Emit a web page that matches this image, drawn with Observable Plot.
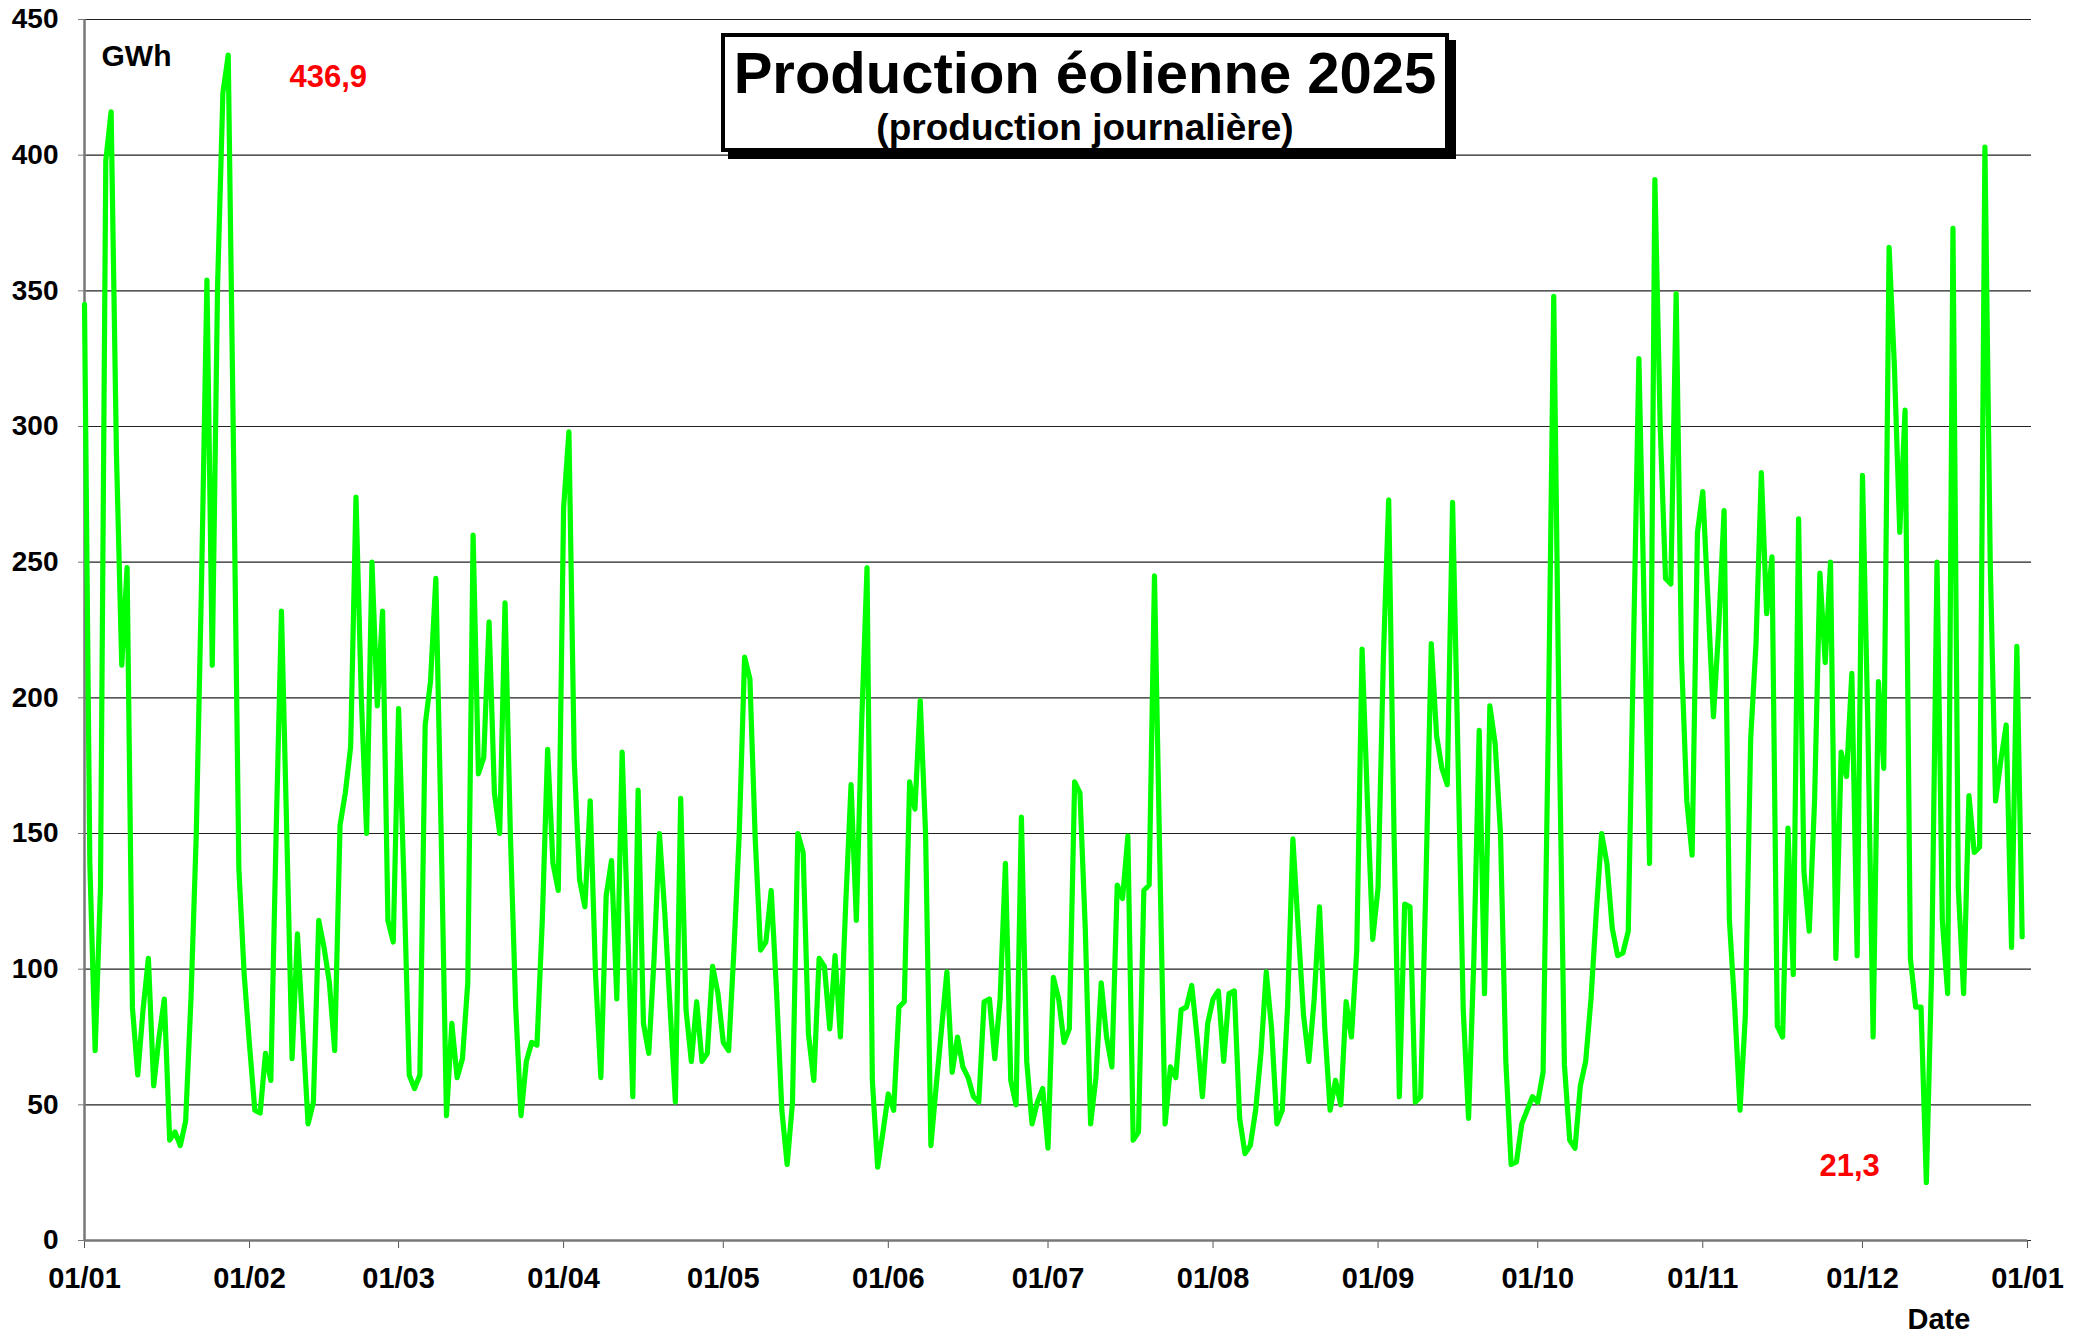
<!DOCTYPE html>
<html>
<head>
<meta charset="utf-8">
<script src="https://cdn.jsdelivr.net/npm/d3@7"></script>
<script src="https://cdn.jsdelivr.net/npm/@observablehq/plot@0.6"></script>
<style>
  html, body { margin: 0; padding: 0; background: #ffffff; }
  #wrap { position: relative; width: 2095px; height: 1335px; overflow: hidden; }
  #titlebox {
    position: absolute; left: 721px; top: 33px; width: 720px; height: 111px;
    border: 4px solid #000; background: #fff; box-shadow: 7px 7px 0 #000;
    font-family: "Liberation Sans", Arial, sans-serif; font-weight: bold; color: #000;
  }
  #title { position: absolute; left: 0; right: 0; top: 7px; text-align: center; font-size: 58px; line-height: 58px; }
  #subtitle { position: absolute; left: 0; right: 0; top: 72px; text-align: center; font-size: 37px; line-height: 37px; }
</style>
</head>
<body>
<div id="wrap"></div>
<script>
// ---- Data ----
const titleText = "Production éolienne 2025";
const subtitleText = "(production journalière)";
const unitLabel = "GWh";
const xLabel = "Date";
const startYear = 2025;
const yTicks = [0, 50, 100, 150, 200, 250, 300, 350, 400, 450];
const monthTicks = ["2025-01-01","2025-02-01","2025-03-01","2025-04-01","2025-05-01","2025-06-01",
  "2025-07-01","2025-08-01","2025-09-01","2025-10-01","2025-11-01","2025-12-01","2026-01-01"];

// daily production (GWh), Jan 1 -> Dec 31
const janValues = [345,139,70,130,398,416,290,212,248,86,61,85,104,57,75,89,37,40,35,44,89,150,244,354,212,352,423,436.9,290,137,98];
const febValues = [72,48,47,69,59,150,232,150,67,113,78,43,51,118,108,95,70,153,165,182,274,200,150,250,197,232,118,110];
const marValues = [196,133,61,56,61,190,206,244,150,46,80,60,67,95,260,172,178,228,165,150,235,150,86,46,66,73,72,118,181,139,129];
const aprValues = [270,298,177,133,123,162,98,60,127,140,89,180,118,53,166,80,69,104,150,121,86,51,163,85,66,88,66,69,101,91];
const mayValues = [73,70,107,150,215,207,148,107,110,129,92,48,28,51,150,143,76,59,104,101,78,105,75,124,168,118,191,248,59,27,40];
const junValues = [54,48,86,88,169,159,199,150,35,57,78,99,62,75,64,60,53,51,88,89,67,89,139,59,50,156,66,43,51,56];
const julValues = [34,97,89,73,78,169,165,115,43,60,95,75,64,131,126,149,37,40,129,131,245,140,43,64,60,85,86,94,75,53,80];
const augValues = [89,92,66,91,92,45,32,35,48,69,99,78,43,48,86,148,115,83,66,89,123,78,48,59,50,88,75,107,218,162,111];
const sepValues = [130,215,273,150,53,124,123,51,53,133,220,186,174,168,272,180,85,45,104,188,91,197,183,150,66,28,29,43,48,53];
const octValues = [51,62,191,348,191,65,37,34,57,66,89,121,150,139,115,105,106,114,220,325,232,139,391,300,244,242,349,215,162,142,261];
const novValues = [276,235,193,226,269,118,86,48,83,185,220,283,231,252,79,75,152,98,266,136,114,162,246,213,250,104,180,171,209,105];
const decValues = [282,191,75,206,174,366,322,261,306,104,86,86,21.3,100,250,118,91,373,130,91,164,143,145,403,250,162,177,190,108,219,112];

const dailyValues = [].concat(janValues, febValues, marValues, aprValues, mayValues, junValues,
  julValues, augValues, sepValues, octValues, novValues, decValues);

const table = dailyValues.map((v, i) => ({ date: new Date(Date.UTC(startYear, 0, 1 + i)), value: v }));
const xTicks = monthTicks.map(s => new Date(s + "T00:00:00Z"));
const frFmt = v => String(v.toFixed(1)).replace(".", ",");
const maxLabel = frFmt(d3.max(dailyValues));
const minLabel = frFmt(d3.min(dailyValues));

const chart = Plot.plot({
  width: 2095,
  height: 1335,
  marginLeft: 84,
  marginRight: 68,
  marginTop: 19,
  marginBottom: 95,
  style: { fontFamily: "'Liberation Sans', Arial, sans-serif", fontWeight: "bold", fontSize: "28px", background: "#ffffff", color: "#000", overflow: "visible" },
  x: { type: "utc", domain: [xTicks[0], xTicks[xTicks.length - 1]] },
  y: { domain: [0, 450] },
  marks: [
    Plot.gridY(yTicks, { stroke: "#222", strokeOpacity: 1, strokeWidth: 1.2, insetRight: -4 }),
    Plot.axisY(yTicks, { tickSize: 6, tickPadding: 20, label: null, stroke: "#777", fontSize: 28 }),
    Plot.axisX(xTicks, { tickSize: 8, tickPadding: 19, label: null, tickFormat: d3.utcFormat("%d/%m"), stroke: "#555", fontSize: 29 }),
    Plot.ruleY([0], { stroke: "#777", strokeWidth: 2.5 }),
    Plot.ruleX([xTicks[0]], { stroke: "#777", strokeWidth: 2.5 }),
    Plot.lineY(table, { x: "date", y: "value", stroke: "#00ff00", strokeWidth: 5.2, strokeLinejoin: "round" }),
    Plot.text([unitLabel], { frameAnchor: "top-left", textAnchor: "start", lineAnchor: "middle", dx: 17, dy: 37, fontSize: 30, fill: "#000" }),
    Plot.text([maxLabel], { frameAnchor: "top-left", textAnchor: "start", lineAnchor: "middle", dx: 205, dy: 58, fontSize: 31, fill: "#ff0000" }),
    Plot.text([minLabel], { frameAnchor: "top-left", textAnchor: "start", lineAnchor: "middle", dx: 1735, dy: 1147, fontSize: 31, fill: "#ff0000" }),
    Plot.text([xLabel], { frameAnchor: "bottom-left", textAnchor: "start", lineAnchor: "middle", dx: 1823, dy: 79, fontSize: 29, fill: "#000" })
  ]
});

const wrap = document.getElementById("wrap");
wrap.appendChild(chart);
const box = document.createElement("div");
box.id = "titlebox";
box.innerHTML = `<div id="title"></div><div id="subtitle"></div>`;
box.querySelector("#title").textContent = titleText;
box.querySelector("#subtitle").textContent = subtitleText;
wrap.appendChild(box);
</script>
</body>
</html>
